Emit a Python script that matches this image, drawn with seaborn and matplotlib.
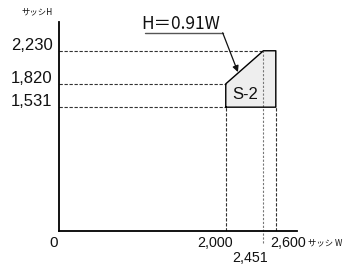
import seaborn as sns
from matplotlib import pyplot as plt
import pandas as pd

# sash region S-2 (W, H)
shape_w = [2000, 2000, 2451, 2600, 2600, 2000]
shape_h = [1531, 1820, 2230, 2230, 1531, 1531]
y_ticks = [2230, 1820, 1531]
y_labels = ["2,230", "1,820", "1,531"]
x_ticks = [2000, 2451, 2600]
x_labels = ["2,000", "2,451", "2,600"]
formula = "H＝0.91W"
region = "S-2"

sns.set_style("white")
plt.rcParams['font.family'] = ['Liberation Sans', 'Noto Sans CJK JP', 'DejaVu Sans']
jp = ['Noto Sans CJK JP', 'DejaVu Sans']
txt = "#111111"

fig = plt.figure(figsize=(3.49, 2.8), dpi=100)
ax = fig.add_axes([0.169, 0.176, 0.681, 0.745])
ax.set_xlim(0, 2850)
ax.set_ylim(0, 2585)

df = pd.DataFrame({"W": shape_w, "H": shape_h})
ax.fill(df["W"], df["H"], color="#eeeeee", zorder=1)
sns.lineplot(x="W", y="H", data=df, sort=False, color="black", linewidth=1.0,
             estimator=None, ax=ax, zorder=3)
ax.set_xlabel("")
ax.set_ylabel("")

dash = dict(color="#333333", linewidth=0.8, linestyle=(0, (3, 1.5)), zorder=2)
# horizontal guides
ax.plot([0, shape_w[2]], [y_ticks[0]] * 2, **dash)
ax.plot([0, shape_w[0]], [y_ticks[1]] * 2, **dash)
ax.plot([0, shape_w[0]], [y_ticks[2]] * 2, **dash)
# vertical guides
ax.plot([x_ticks[0]] * 2, [0, y_ticks[2]], **dash)
ax.plot([x_ticks[2]] * 2, [0, y_ticks[2]], **dash)
ax.plot([x_ticks[1]] * 2, [-150, y_ticks[0]], color="#777777", linewidth=0.8,
        linestyle=(0, (2, 1.5)), zorder=2, clip_on=False)

for sp in ["top", "right"]:
    ax.spines[sp].set_visible(False)
for sp in ["left", "bottom"]:
    ax.spines[sp].set_color("black")
    ax.spines[sp].set_linewidth(1.3)
ax.set_xticks([])
ax.set_yticks([])

for v, lab in zip(y_ticks, y_labels):
    ax.text(-76, v + 10, lab, ha="right", va="baseline", fontsize=12, color=txt)
ax.text(-60, -146, "0", ha="center", va="center", fontsize=11, color=txt)
ax.text(1870, -146, x_labels[0], ha="center", va="center", fontsize=10.3, color=txt)
ax.text(2530, -146, x_labels[2], ha="left", va="center", fontsize=10.3, color=txt)
ax.text(2290, -338, x_labels[1], ha="center", va="center", fontsize=10.3, color=txt)

ax.text(-267, 2710, "サッシH", ha="center", va="center", fontsize=6, family=jp, color=txt)
ax.text(2986, -146, "サッシ W", ha="left", va="center", fontsize=6, family=jp, color=txt)

ax.text(991, 2561, formula, ha="left", va="center", fontsize=12.5, family=jp, color=txt)
ax.plot([1031, 1963], [2453, 2453], color="#555555", linewidth=1.0, clip_on=False)
ax.annotate("", xy=(2146, 1966), xytext=(1963, 2453),
            arrowprops=dict(arrowstyle="-|>", color="#111111", lw=0.9, mutation_scale=9,
                            shrinkA=0, shrinkB=0))
ax.text(2239, 1694, region, ha="center", va="center", fontsize=12, color=txt)

for t in ax.texts:
    t.set_clip_on(False)

fig.savefig("out.png", dpi=100)
